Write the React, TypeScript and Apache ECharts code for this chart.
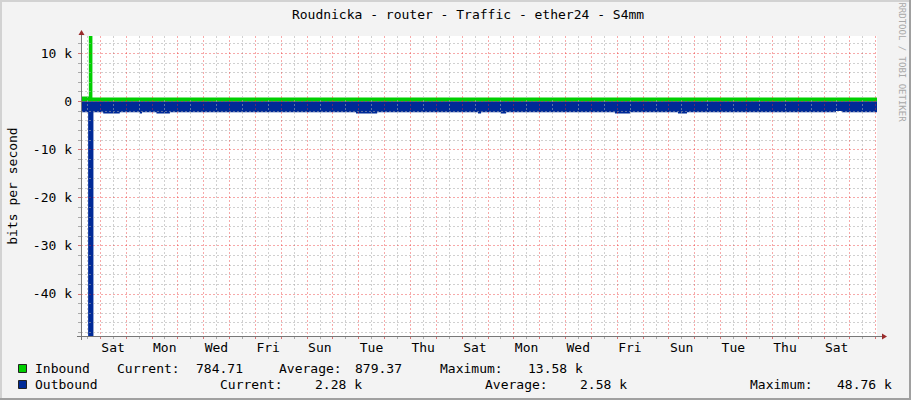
import React, { useEffect, useRef } from 'react';
import * as echarts from 'echarts';

// ---------- data ----------
const TITLE = 'Roudnicka - router - Traffic - ether24 - S4mm';
const Y_TITLE = 'bits per second';
const WATERMARK = 'RRDTOOL / TOBI OETIKER';

// time axis in days (day 0 = midnight starting the first Saturday)
const X_MIN = -0.74;
const X_MAX = 30.06;
const Y_MIN = -48760;
const Y_MAX = 13580;

const dayLines = [0, 1, 2, 3, 4, 5, 6, 7, 8, 9, 10, 11, 12, 13, 14, 15, 16, 17, 18, 19, 20, 21, 22, 23, 24, 25, 26, 27, 28, 29, 30];
const halfDayLines = [-0.5, 0.5, 1.5, 2.5, 3.5, 4.5, 5.5, 6.5, 7.5, 8.5, 9.5, 10.5, 11.5, 12.5, 13.5, 14.5, 15.5, 16.5, 17.5, 18.5, 19.5, 20.5, 21.5, 22.5, 23.5, 24.5, 25.5, 26.5, 27.5, 28.5, 29.5];
const labelDays = [0.5, 2.5, 4.5, 6.5, 8.5, 10.5, 12.5, 14.5, 16.5, 18.5, 20.5, 22.5, 24.5, 26.5, 28.5];
const dayNames = ['Sat', 'Mon', 'Wed', 'Fri', 'Sun', 'Tue', 'Thu', 'Sat', 'Mon', 'Wed', 'Fri', 'Sun', 'Tue', 'Thu', 'Sat'];

const yMajor = [-40000, -30000, -20000, -10000, 0, 10000];
const yMinor = [-48000, -46000, -44000, -42000, -38000, -36000, -34000, -32000, -28000, -26000, -24000, -22000, -18000, -16000, -14000, -12000, -8000, -6000, -4000, -2000, 2000, 4000, 6000, 8000, 12000];

// Inbound (bits/s), stepped: value holds from time until next time
const inTimes = [-0.74, -0.437, -0.298, 30.06];
const inValues = [1000, 13580, 800, 785];

// Outbound (plotted negative)
const outTimes = [-0.74, -0.464, -0.259, 0.12, 0.76, 1.54, 1.62, 2.18, 2.7, 9.9, 10.72, 14.62, 14.74, 15.51, 15.71, 19.92, 20.5, 22.36, 22.71, 28.47, 28.7, 30.06];
const outValues = [-2250, -48760, -2250, -2500, -2250, -2500, -2250, -2500, -2250, -2500, -2250, -2500, -2250, -2500, -2250, -2500, -2250, -2500, -2250, -2000, -2280, -2280];

const legendRows = [
  { name: 'Inbound', color: '#00CF00', labels: ['Current:', 'Average:', 'Maximum:'], values: ['784.71', '879.37', '13.58 k'] },
  { name: 'Outbound', color: '#002A97', labels: ['Current:', 'Average:', 'Maximum:'], values: ['2.28 k', '2.58 k', '48.76 k'] },
];

// ---------- layout ----------
const FONT = '"DejaVu Sans Mono", monospace';
const W = 911;
const H = 400;
const GRID = { left: 81, top: 36, width: 796, height: 300 };
const legendLayout = [
  { y: 368, sq: 364, xs: [35, 117, 196, 279, 355, 440, 528] },
  { y: 384, sq: 380, xs: [35, 220, 315, 485, 580, 750, 837] },
];

const MAJOR = 'rgba(235, 40, 40, 0.4)';
const MINOR = 'rgba(170, 170, 170, 0.55)';

export default function App() {
  const ref = useRef<HTMLDivElement>(null);
  useEffect(() => {
    if (!ref.current) return;
    const chart = echarts.init(ref.current, undefined, { renderer: 'svg' });

    const inData = inTimes.map((t, i) => [t, inValues[i]]);
    const outData = outTimes.map((t, i) => [t, outValues[i]]);

    const gx = GRID.left;
    const gy = GRID.top;
    const gr = GRID.left + GRID.width;
    const gb = GRID.top + GRID.height;

    const graphics: any[] = [
      // frame
      { type: 'rect', shape: { x: 0, y: 0, width: W, height: 2 }, style: { fill: '#d2d2d2' }, silent: true },
      { type: 'rect', shape: { x: 0, y: 0, width: 2, height: H }, style: { fill: '#d2d2d2' }, silent: true },
      { type: 'rect', shape: { x: W - 2, y: 0, width: 2, height: H }, style: { fill: '#a0a0a0' }, silent: true },
      { type: 'rect', shape: { x: 0, y: H - 2, width: W, height: 2 }, style: { fill: '#a0a0a0' }, silent: true },
      // axes
      { type: 'line', z: 10, shape: { x1: gx + 0.5, y1: gb + 4, x2: gx + 0.5, y2: gy - 3 }, style: { stroke: '#777', lineWidth: 1 } },
      { type: 'line', z: 10, shape: { x1: gx - 4, y1: gb + 0.5, x2: gr + 5, y2: gb + 0.5 }, style: { stroke: '#777', lineWidth: 1 } },
      { type: 'polygon', z: 10, shape: { points: [[gx - 2.5, gy - 1], [gx + 3.5, gy - 1], [gx + 0.5, gy - 6]] }, style: { fill: '#9b2b2b' } },
      { type: 'polygon', z: 10, shape: { points: [[gr + 5, gb - 2.5], [gr + 5, gb + 3.5], [gr + 10, gb + 0.5]] }, style: { fill: '#9b2b2b' } },
      // titles
      { type: 'text', x: 468, y: 14, style: { text: TITLE, font: `13px ${FONT}`, fill: '#000', align: 'center', verticalAlign: 'middle' } },
      { type: 'text', x: 12, y: 186, rotation: Math.PI / 2, style: { text: Y_TITLE, font: `13px ${FONT}`, fill: '#000', align: 'center', verticalAlign: 'middle' } },
      { type: 'text', x: 902, y: 62, rotation: -Math.PI / 2, style: { text: WATERMARK, font: `9px ${FONT}`, fill: '#a8a8a8', align: 'center', verticalAlign: 'middle' } },
    ];

    legendRows.forEach((row, r) => {
      const lay = legendLayout[r];
      graphics.push({ type: 'rect', shape: { x: 18.5, y: lay.sq + 0.5, width: 8, height: 8 }, style: { fill: row.color, stroke: '#222', lineWidth: 1 } });
      const texts = [row.name, row.labels[0], row.values[0], row.labels[1], row.values[1], row.labels[2], row.values[2]];
      texts.forEach((t, i) => {
        graphics.push({ type: 'text', x: lay.xs[i], y: lay.y, style: { text: t, font: `13px ${FONT}`, fill: '#000', align: 'left', verticalAlign: 'middle' } });
      });
    });

    const option: any = {
      animation: false,
      backgroundColor: '#f3f3f3',
      grid: { ...GRID, show: true, backgroundColor: '#ffffff', borderWidth: 0, containLabel: false },
      xAxis: [
        {
          type: 'value', min: X_MIN, max: X_MAX, z: 5, position: 'bottom',
          axisLine: { show: false, onZero: false },
          axisTick: { show: true, customValues: dayLines, length: 3, lineStyle: { color: 'rgba(200,60,60,0.7)' } },
          axisLabel: {
            customValues: labelDays, margin: 5, color: '#000', fontFamily: FONT, fontSize: 13,
            formatter: (v: number) => {
              const i = labelDays.findIndex((d) => Math.abs(d - v) < 1e-6);
              return i >= 0 ? dayNames[i] : '';
            },
          },
          splitLine: { show: true, lineStyle: { color: MAJOR, type: [2, 2], width: 1 } },
        },
        {
          type: 'value', min: X_MIN, max: X_MAX, z: 4, position: 'bottom',
          axisLine: { show: false, onZero: false },
          axisTick: { show: true, customValues: halfDayLines, length: 3, lineStyle: { color: '#aaa' } },
          axisLabel: { show: false },
          splitLine: { show: true, lineStyle: { color: MINOR, type: [2, 2], width: 1 } },
        },
      ],
      yAxis: [
        {
          type: 'value', min: Y_MIN, max: Y_MAX, z: 5, position: 'left',
          axisLine: { show: false, onZero: false },
          axisTick: { show: true, customValues: yMajor, length: 3, lineStyle: { color: 'rgba(200,60,60,0.7)' } },
          axisLabel: {
            customValues: yMajor, margin: 9, color: '#000', fontFamily: FONT, fontSize: 13,
            formatter: (v: number) => (v === 0 ? '0' : `${v / 1000} k`),
          },
          splitLine: { show: true, lineStyle: { color: MAJOR, type: [2, 2], width: 1 } },
        },
        {
          type: 'value', min: Y_MIN, max: Y_MAX, z: 4, position: 'left',
          axisLine: { show: false, onZero: false },
          axisTick: { show: true, customValues: yMinor, length: 3, lineStyle: { color: '#aaa' } },
          axisLabel: { show: false },
          splitLine: { show: true, lineStyle: { color: MINOR, type: [2, 2], width: 1 } },
        },
      ],
      series: [
        {
          name: 'Outbound', type: 'line', step: 'end', data: outData, xAxisIndex: 0, yAxisIndex: 0,
          symbol: 'none', color: '#002A97', lineStyle: { width: 0 }, areaStyle: { color: '#002A97', opacity: 1 }, z: 2,
        },
        {
          name: 'Inbound', type: 'line', step: 'end', data: inData, xAxisIndex: 0, yAxisIndex: 0,
          symbol: 'none', color: '#00CF00', lineStyle: { width: 0 }, areaStyle: { color: '#00CF00', opacity: 1 }, z: 2,
        },
      ],
      graphic: graphics,
    };

    chart.setOption(option);
    return () => chart.dispose();
  }, []);

  return <div ref={ref} style={{ position: 'fixed', left: 0, top: 0, width: W, height: H }} />;
}
